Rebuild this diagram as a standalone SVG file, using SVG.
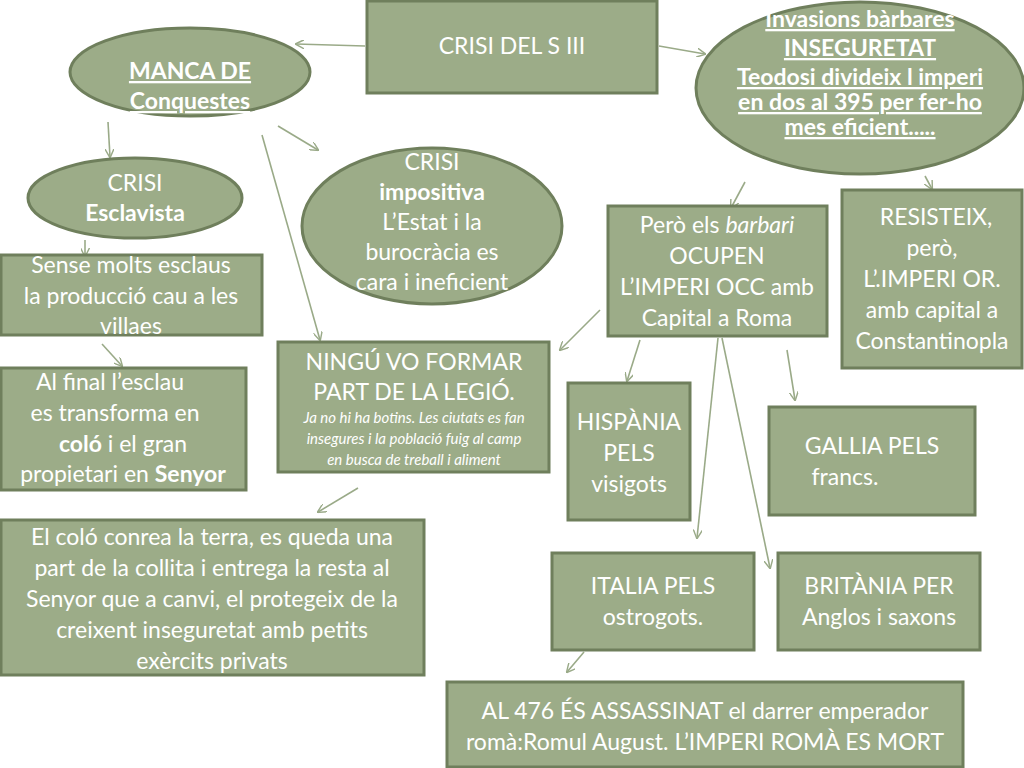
<svg xmlns="http://www.w3.org/2000/svg" width="1024" height="768" viewBox="0 0 1024 768">
<style>
.n{fill:#9cac88;stroke:#6f7f5c;stroke-width:3}
text{font-family:Lato,"Open Sans","Liberation Sans",sans-serif;fill:#fff;text-anchor:middle;font-size:23px}
.b{font-weight:bold}
.u{text-decoration:underline}
.s{font-size:15px;font-style:italic}
.c line{stroke:#9aaa88;stroke-width:1.6;marker-end:url(#a)}
</style>
<defs><marker id="a" viewBox="0 0 10 10" refX="9" refY="5" markerWidth="9" markerHeight="9" orient="auto" markerUnits="userSpaceOnUse"><path d="M0,0L10,5L0,10" fill="none" stroke="#9aaa88" stroke-width="1.6"/></marker></defs>
<rect width="1024" height="768" fill="#fff"/>
<g class="c">
<line x1="365" y1="46" x2="296" y2="44"/>
<line x1="659" y1="46" x2="705" y2="54"/>
<line x1="108" y1="122" x2="110" y2="157"/>
<line x1="278" y1="126" x2="318" y2="150"/>
<line x1="262" y1="135" x2="320" y2="340"/>
<line x1="85" y1="240" x2="85" y2="256"/>
<line x1="102" y1="344" x2="122" y2="366"/>
<line x1="358" y1="488" x2="318" y2="512"/>
<line x1="745" y1="182" x2="731" y2="208"/>
<line x1="925" y1="176" x2="932" y2="189"/>
<line x1="600" y1="310" x2="560" y2="350"/>
<line x1="640" y1="340" x2="627" y2="381"/>
<line x1="787" y1="350" x2="795" y2="400"/>
<line x1="718" y1="338" x2="697" y2="538"/>
<line x1="722" y1="338" x2="770" y2="568"/>
<line x1="584" y1="652" x2="567" y2="672"/>
</g>
<g id="crisi"><rect class="n" x="367" y="1" width="290" height="92"/><text x="512" y="54" font-size="21">CRISI DEL S III</text></g>
<g id="manca"><ellipse class="n" cx="190" cy="72" rx="120" ry="44"/><text class="b u" x="190" y="79" font-size="21">MANCA DE</text><text class="b u" x="190" y="109" font-size="21">Conquestes</text></g>
<g id="invasions"><ellipse class="n" cx="860" cy="88" rx="164" ry="86"/><text class="b u" x="860" y="27" font-size="21">Invasions bàrbares</text><text class="b u" x="860" y="56" font-size="21">INSEGURETAT</text><text class="b u" x="860" y="85" font-size="13">Teodosi divideix l imperi</text><text class="b u" x="860" y="110" font-size="13">en dos al 395 per fer-ho</text><text class="b u" x="860" y="135" font-size="13">mes eficient.....</text></g>
<g id="esclavista"><ellipse class="n" cx="135" cy="198" rx="107" ry="40"/><text x="135" y="191" font-size="21">CRISI</text><text class="b" x="135" y="221" font-size="21">Esclavista</text></g>
<g id="impositiva"><ellipse class="n" cx="432" cy="226" rx="130" ry="78"/><text x="432" y="170" font-size="21">CRISI</text><text class="b" x="432" y="200" font-size="21">impositiva</text><text x="432" y="230" font-size="21">L’Estat i la</text><text x="432" y="260" font-size="21">burocràcia es</text><text x="432" y="290" font-size="21">cara i ineficient</text></g>
<g id="sense"><rect class="n" x="1" y="255" width="261" height="80"/><text x="131" y="273">Sense molts esclaus</text><text x="131" y="304">la producció cau a les</text><text x="131" y="334">villaes</text></g>
<g id="alfinal"><rect class="n" x="1" y="368" width="245" height="122"/><text x="110" y="390">Al final l’esclau</text><text x="115" y="421">es transforma en</text><text x="123" y="452"><tspan class="b">coló</tspan> i el gran</text><text x="123" y="482">propietari en <tspan class="b">Senyor</tspan></text></g>
<g id="ningu"><rect class="n" x="278" y="342" width="271" height="130"/><text x="414" y="370" font-size="22">NINGÚ  VO FORMAR</text><text x="414" y="400" font-size="22">PART DE LA LEGIÓ.</text><text class="s" x="414" y="423">Ja no hi ha botins. Les ciutats es fan</text><text class="s" x="414" y="444">insegures i la població fuig al camp</text><text class="s" x="414" y="465">en busca de treball i aliment</text></g>
<g id="colo"><rect class="n" x="1" y="520" width="423" height="155"/><text x="212" y="545">El coló conrea la terra, es queda una</text><text x="212" y="576">part de la collita i entrega la resta al</text><text x="212" y="607">Senyor que a canvi, el protegeix de la</text><text x="212" y="638">creixent inseguretat amb petits</text><text x="212" y="669">exèrcits privats</text></g>
<g id="pero"><rect class="n" x="608" y="206" width="219" height="130"/><text x="717" y="233">Però els <tspan font-style="italic">barbari</tspan></text><text x="717" y="264">OCUPEN</text><text x="717" y="295">L’IMPERI OCC amb</text><text x="717" y="326">Capital a Roma</text></g>
<g id="resisteix"><rect class="n" x="842" y="190" width="180" height="178"/><text x="936" y="225">RESISTEIX,</text><text x="932" y="256">però,</text><text x="932" y="287">L’.IMPERI OR.</text><text x="932" y="318">amb capital a</text><text x="932" y="349">Constantinopla</text></g>
<g id="hispania"><rect class="n" x="568" y="383" width="122" height="137"/><text x="629" y="430">HISPÀNIA</text><text x="629" y="461">PELS</text><text x="629" y="492">visigots</text></g>
<g id="gallia"><rect class="n" x="769" y="407" width="206" height="108"/><text x="872" y="454">GALLIA PELS</text><text x="845" y="485">francs.</text></g>
<g id="italia"><rect class="n" x="552" y="553" width="202" height="97"/><text x="653" y="594">ITALIA PELS</text><text x="653" y="625">ostrogots.</text></g>
<g id="britania"><rect class="n" x="778" y="553" width="202" height="97"/><text x="879" y="594">BRITÀNIA PER</text><text x="879" y="625">Anglos i saxons</text></g>
<g id="al476"><rect class="n" x="447" y="682" width="516" height="85"/><text x="705" y="719">AL 476 ÉS ASSASSINAT el darrer emperador</text><text x="705" y="750">romà:Romul August. L’IMPERI ROMÀ ES MORT</text></g>
</svg>
